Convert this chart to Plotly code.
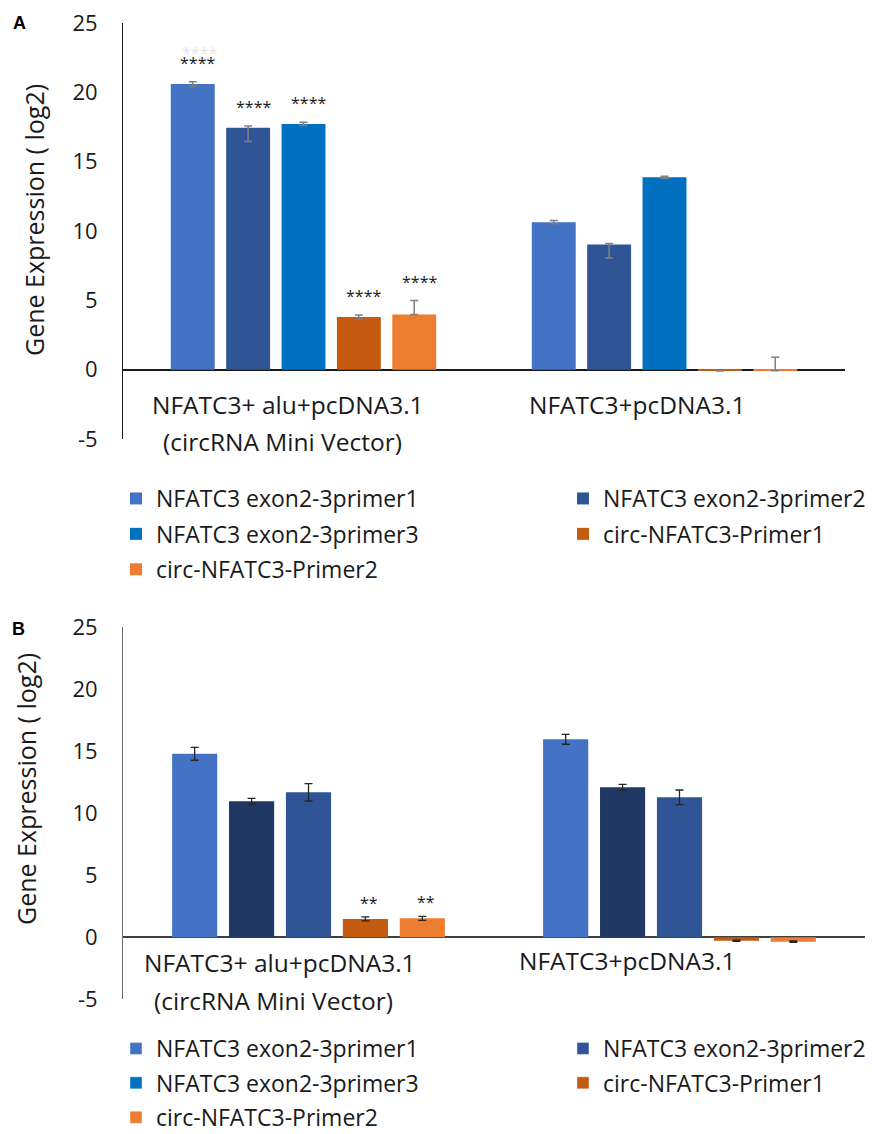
import plotly.graph_objects as go

# ---------------- data ----------------
categories = ["NFATC3+ alu+pcDNA3.1<br>(circRNA Mini Vector)", "NFATC3+pcDNA3.1"]
series_names = ["NFATC3 exon2-3primer1", "NFATC3 exon2-3primer2", "NFATC3 exon2-3primer3",
                "circ-NFATC3-Primer1", "circ-NFATC3-Primer2"]
y_tick_vals = [-5, 0, 5, 10, 15, 20, 25]
y_tick_text = ["-5", "0", "5", "10", "15", "20", "25"]

# Panel A values (log2 gene expression)
a_primer1 = [20.6, 10.64]
a_primer2 = [17.45, 9.03]
a_primer3 = [17.72, 13.88]
a_circ1 = [3.8, -0.08]
a_circ2 = [3.98, -0.08]
a_err_plus = [[0.17, 0.12], [0.12, 0.07], [0.12, 0.07], [0.14, 0.02], [1.0, 0.97]]
a_err_minus = [[0.17, 0.12], [1.0, 0.98], [0.12, 0.07], [0.14, 0.02], [0.0, 0.0]]
a_stars = [["****", ""], ["****", ""], ["****", ""], ["****", ""], ["****", ""]]

# Panel B values
b_primer1 = [14.8, 15.97]
b_primer2 = [10.97, 12.1]
b_primer3 = [11.69, 11.29]
b_circ1 = [1.48, -0.27]
b_circ2 = [1.53, -0.35]
b_err = [[0.52, 0.4], [0.24, 0.24], [0.7, 0.59], [0.16, 0.05], [0.16, 0.05]]
b_stars = [["", ""], ["", ""], ["", ""], ["**", ""], ["**", ""]]

legend_colors = ["#4472C4", "#2F5597", "#0070C0", "#C55A11", "#ED7D31"]
a_colors = ["#4472C4", "#2F5597", "#0070C0", "#C55A11", "#ED7D31"]
b_colors = ["#4472C4", "#203864", "#2F5597", "#C55A11", "#ED7D31"]

a_values = [a_primer1, a_primer2, a_primer3, a_circ1, a_circ2]
b_values = [b_primer1, b_primer2, b_primer3, b_circ1, b_circ2]

FONT = "Open Sans"
W, H = 872, 1134
BARGAP = 0.233
BARGROUPGAP = 0.207

fig = go.Figure()

# Panel A bars (also drive legend of panel A)
for i, name in enumerate(series_names):
    fig.add_trace(go.Bar(
        x=categories, y=a_values[i], name=name,
        marker=dict(color=a_colors[i], line=dict(width=0)),
        error_y=dict(type="data", symmetric=False, array=a_err_plus[i], arrayminus=a_err_minus[i],
                     color="#808080", thickness=1.5, width=4),
        xaxis="x", yaxis="y",
        legend="legend" if i in (0, 2, 4) else "legend2",
        legendgroup=f"a{i}", showlegend=True,
    ))

# Panel B bars
for i, name in enumerate(series_names):
    fig.add_trace(go.Bar(
        x=categories, y=b_values[i], name=name,
        marker=dict(color=b_colors[i], line=dict(width=0)),
        error_y=dict(type="data", array=b_err[i], color="#262626", thickness=1.3, width=4),
        xaxis="x2", yaxis="y2", showlegend=False,
    ))

# Legend entries of panel B (legend colours differ from the bars, as in the original)
for i, name in enumerate(series_names):
    fig.add_trace(go.Bar(
        x=[None], y=[None], name=name,
        marker=dict(color=legend_colors[i]),
        xaxis="x3", yaxis="y3",
        legend="legend3" if i in (0, 2, 4) else "legend4",
        legendgroup=f"b{i}", showlegend=True,
    ))

# ---------- layout geometry ----------
A_X = [123 / W, 845 / W]
A_Y = [1 - 439 / H, 1 - 23 / H]
B_X = [123 / W, 865 / W]
B_Y = [1 - 999.3 / H, 1 - 627.3 / H]

yaxis_common = dict(range=[-5, 25], tickmode="array", tickvals=y_tick_vals, ticktext=y_tick_text,
                    showgrid=False, showline=True,
                    linewidth=1, zeroline=True, ticks="", ticklabelstandoff=20,
                    tickfont=dict(family=FONT, size=22, color="#1a1a1a"))
xaxis_common = dict(showticklabels=False, showline=False, ticks="", showgrid=False,
                    zeroline=False, type="category")

legend_common = dict(orientation="v", bgcolor="rgba(0,0,0,0)", borderwidth=0,
                     font=dict(family=FONT, size=23, color="#1a1a1a"),
                     xanchor="left", yanchor="top", itemclick=False)

fig.update_layout(
    width=W, height=H,
    margin=dict(l=0, r=0, t=0, b=0, autoexpand=False),
    paper_bgcolor="white", plot_bgcolor="white",
    barmode="group", bargap=BARGAP, bargroupgap=BARGROUPGAP,
    font=dict(family=FONT, color="#1a1a1a"),
    xaxis=dict(domain=A_X, anchor="y", **xaxis_common),
    yaxis=dict(domain=A_Y, anchor="x", linecolor="#1a1a1a",
               zerolinecolor="#1a1a1a", zerolinewidth=1.6, **yaxis_common),
    xaxis2=dict(domain=B_X, anchor="y2", **xaxis_common),
    yaxis2=dict(domain=B_Y, anchor="x2", linecolor="#6e6e6e",
                zerolinecolor="#404040", zerolinewidth=1.6, **yaxis_common),
    xaxis3=dict(domain=[0, 0.001], anchor="y3", visible=False),
    yaxis3=dict(domain=[0, 0.001], anchor="x3", visible=False),
    legend=dict(x=116 / W, y=1 - 477 / H, tracegroupgap=2.5, **legend_common),
    legend2=dict(x=563 / W, y=1 - 477 / H, tracegroupgap=2.5, **legend_common),
    legend3=dict(x=116 / W, y=1 - 1027 / H, tracegroupgap=1.5, **legend_common),
    legend4=dict(x=563 / W, y=1 - 1027 / H, tracegroupgap=1.5, **legend_common),
    showlegend=True,
)

annotations = []

# category labels placed just below the zero line
def cat_labels(xref, yref, line1_shift, line2_shift, dy1, dy2, g2_shift, g2_dy):
    l1, l2 = categories[0].split("<br>")
    f = dict(family=FONT, size=24.5, color="#1a1a1a")
    annotations.append(dict(x=categories[0], y=0, xref=xref, yref=yref, text=l1, showarrow=False,
                            xanchor="center", yanchor="middle",
                            xshift=line1_shift, yshift=-dy1, font=f))
    annotations.append(dict(x=categories[0], y=0, xref=xref, yref=yref, text=l2, showarrow=False,
                            xanchor="center", yanchor="middle",
                            xshift=line2_shift, yshift=-dy2, font=f))
    annotations.append(dict(x=categories[1], y=0, xref=xref, yref=yref, text=categories[1], showarrow=False,
                            xanchor="center", yanchor="middle",
                            xshift=g2_shift, yshift=-g2_dy, font=f))

cat_labels("x", "y", -16, -21, 35, 72, -28, 35)
cat_labels("x2", "y2", -29, -35, 25, 63, -53, 23)

# significance stars above error bars
def stars(xref, yref, values, errs, marks, dom, gap_px, extra_x):
    plot_w = (dom[1] - dom[0]) * W
    cat_w = plot_w / len(categories)
    slot = cat_w * (1 - BARGAP) / len(series_names)
    for i in range(len(series_names)):
        for j, cat in enumerate(categories):
            if marks[i][j]:
                annotations.append(dict(
                    x=cat, y=values[i][j] + errs[i][j], xref=xref, yref=yref,
                    text=marks[i][j], showarrow=False, xanchor="center", yanchor="middle",
                    xshift=(i - 2) * slot + extra_x, yshift=gap_px,
                    font=dict(family=FONT, size=16, color="#1a1a1a")))

stars("x", "y", a_values, a_err_plus, a_stars, A_X, 19, 5)
stars("x2", "y2", b_values, b_err, b_stars, B_X, 14, 4)

# faint duplicated stars above the first bar of panel A (as in the original image)
annotations.append(dict(x=categories[0], y=a_values[0][0] + a_err_plus[0][0], xref="x", yref="y",
                        text="****", showarrow=False, xanchor="center", yanchor="middle",
                        xshift=-2 * (722 / 2) * (1 - BARGAP) / 5 + 7, yshift=29,
                        font=dict(family=FONT, size=16, color="#e6e6e6")))

# axis titles
title_font = dict(family=FONT, size=25, color="#1a1a1a")
annotations.append(dict(x=34 / W, y=1 - 220 / H, xref="paper", yref="paper", text="Gene Expression ( log2)",
                        textangle=-90, showarrow=False, xanchor="center", yanchor="middle", font=title_font))
annotations.append(dict(x=26 / W, y=1 - 789 / H, xref="paper", yref="paper", text="Gene Expression ( log2)",
                        textangle=-90, showarrow=False, xanchor="center", yanchor="middle", font=title_font))

# panel letters
letter_font = dict(family="Liberation Sans", size=18, color="black")
annotations.append(dict(x=19 / W, y=1 - 23 / H, xref="paper", yref="paper", text="<b>A</b>",
                        showarrow=False, xanchor="center", yanchor="middle", font=letter_font))
annotations.append(dict(x=18 / W, y=1 - 629 / H, xref="paper", yref="paper", text="<b>B</b>",
                        showarrow=False, xanchor="center", yanchor="middle", font=letter_font))

fig.update_layout(annotations=annotations)

fig.write_html("out.html", config={"displayModeBar": False},
               post_script="document.body.style.margin='0';document.body.style.overflow='hidden';")
